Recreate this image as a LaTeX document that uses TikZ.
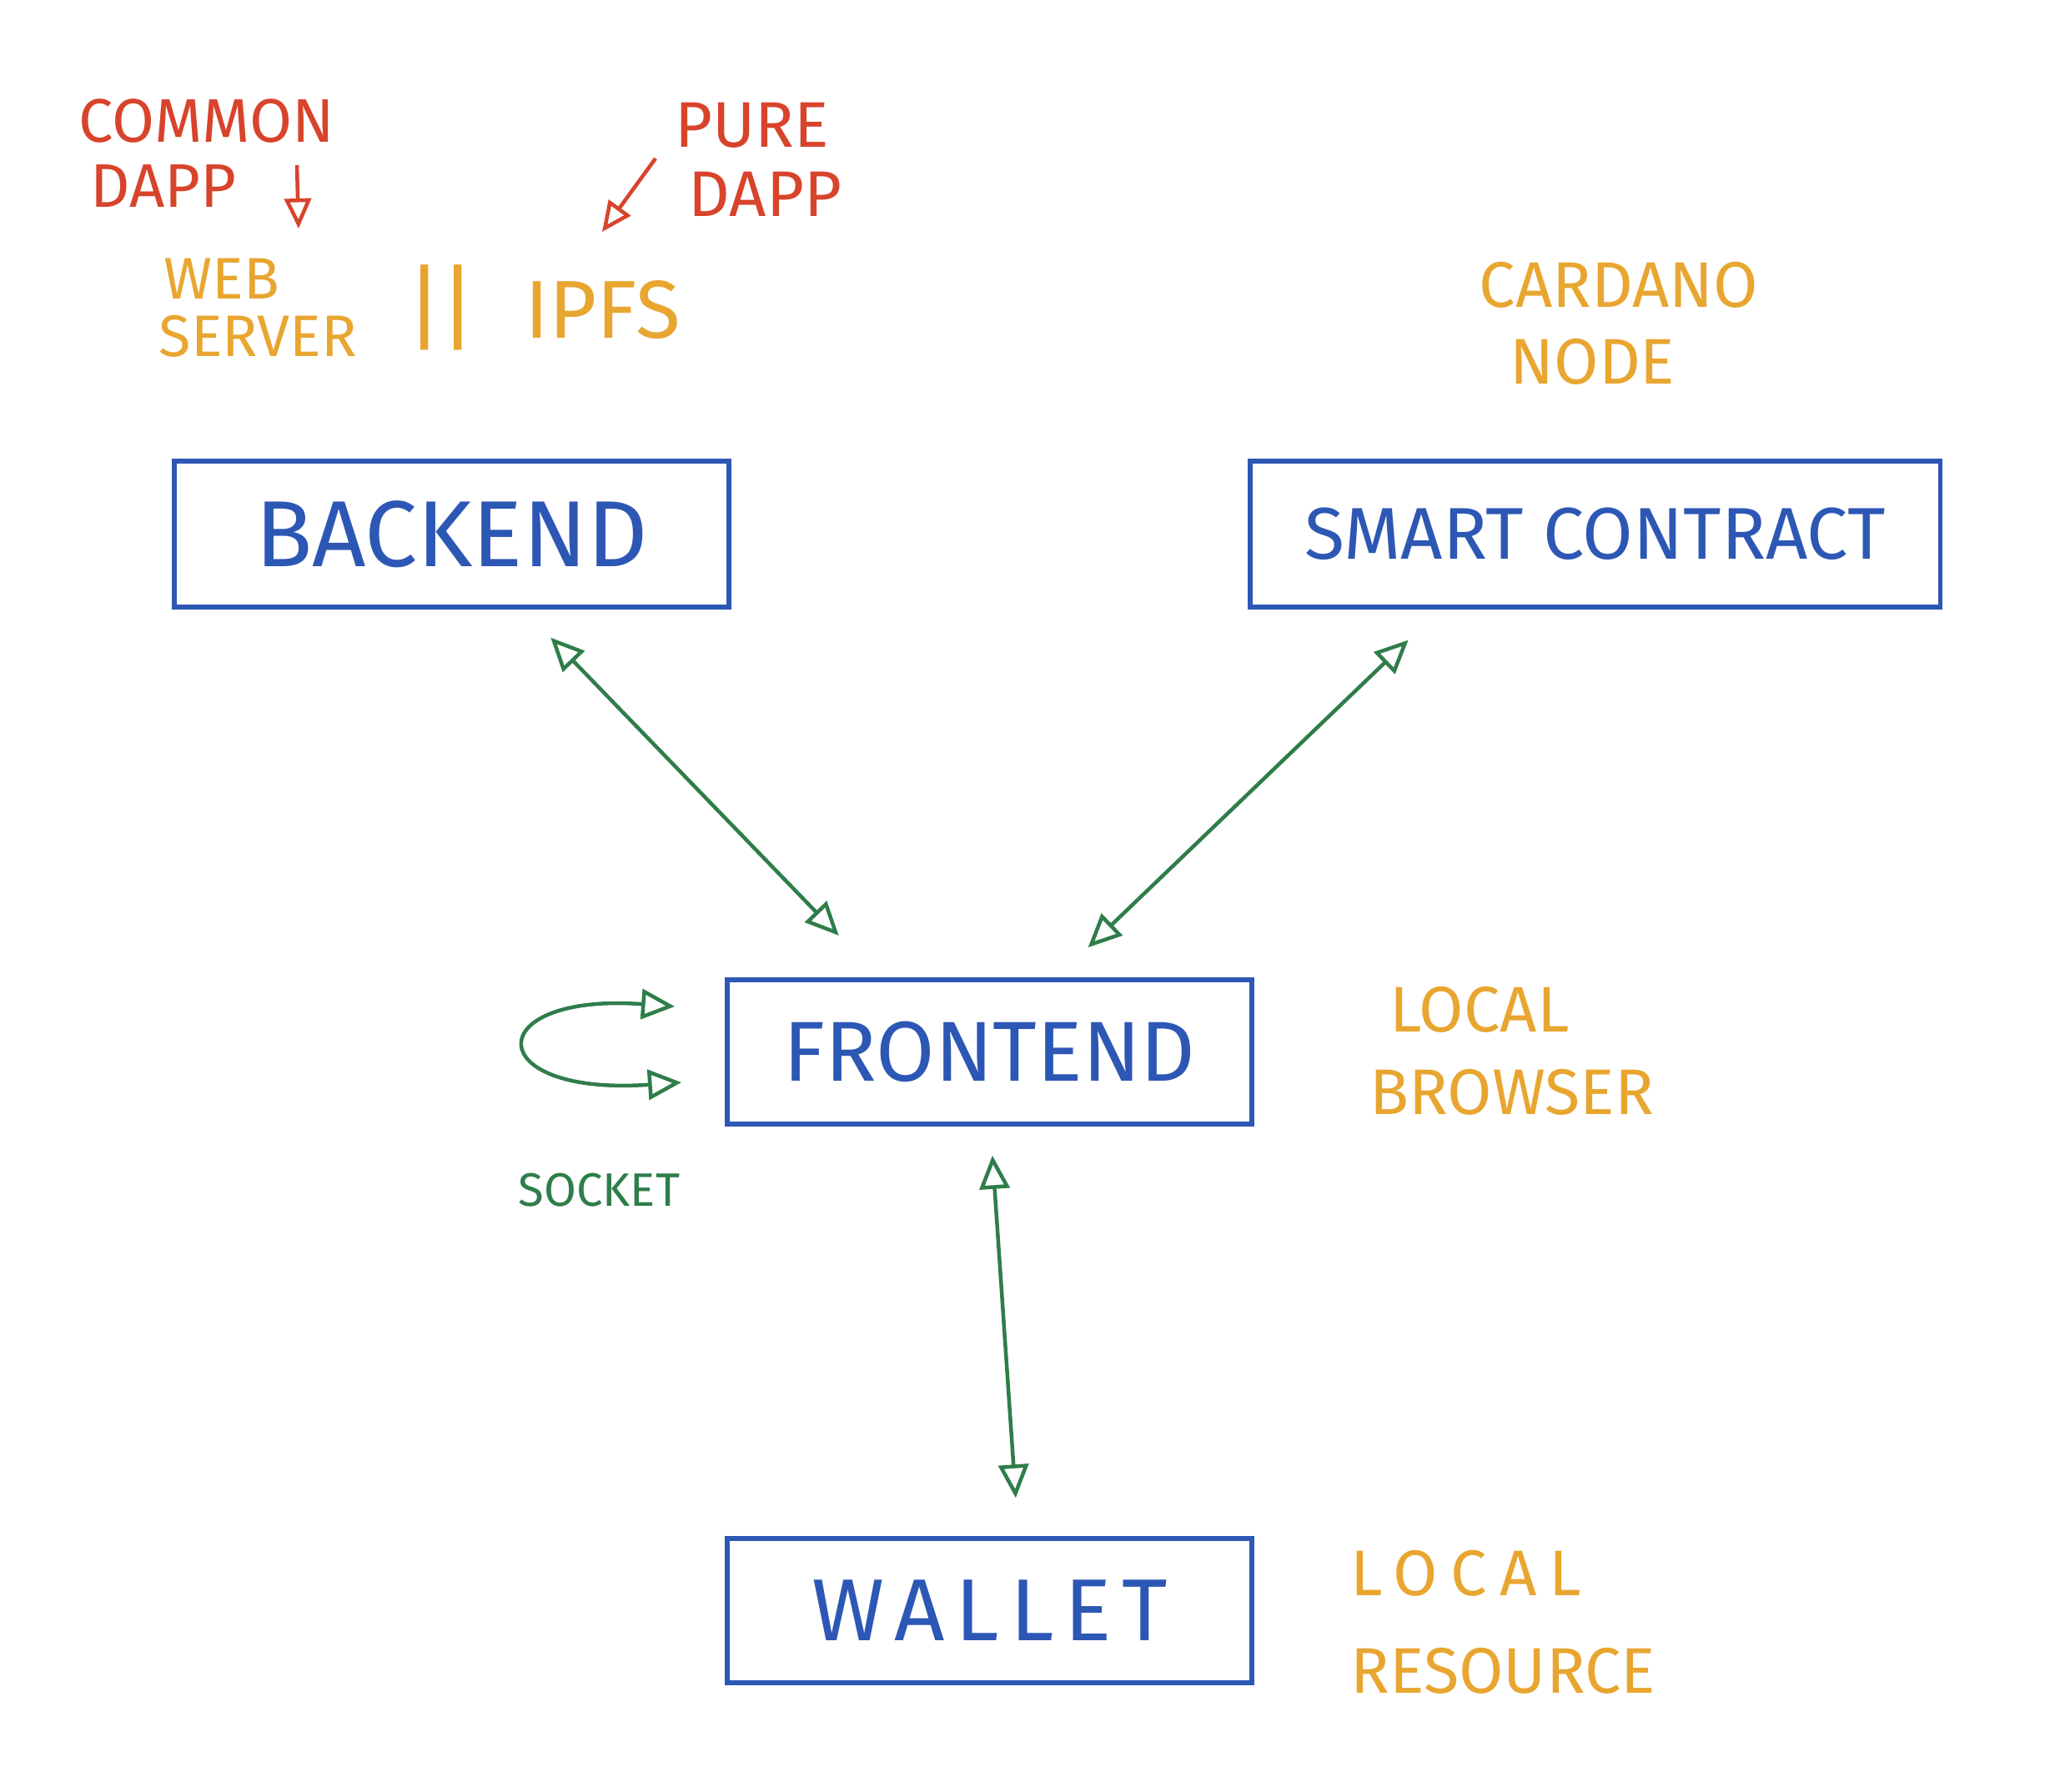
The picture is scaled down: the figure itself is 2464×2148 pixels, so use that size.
\documentclass[tikz,border=0pt]{standalone}
\usepackage{fontspec}
\setmainfont{Fira Sans}
\usetikzlibrary{arrows.meta}
\definecolor{penblue}{HTML}{2D57B4}
\definecolor{pengreen}{HTML}{2F7D4A}
\definecolor{penorange}{HTML}{E8A630}
\definecolor{penred}{HTML}{D8432C}
\begin{document}
\begin{tikzpicture}[x=0.01cm,y=-0.01cm,
  nodebox/.style={draw=penblue, line width=0.55mm, text=penblue, inner sep=0},
  biarrow/.style={draw=pengreen, line width=0.45mm,
    {Triangle[open,length=4mm,width=3.6mm]}-{Triangle[open,length=4mm,width=3.6mm]}},
  redarrow/.style={draw=penred, line width=0.45mm, -{Triangle[open,length=3.6mm,width=3.2mm]}},
  orangenote/.style={text=penorange, align=left, anchor=base west, inner sep=0},
  rednote/.style={text=penred, align=left, anchor=base west, inner sep=0},
  greennote/.style={text=pengreen, align=left, anchor=base west, inner sep=0}]
\fill[white] (0,0) rectangle (2464,2148);
\useasboundingbox (0,0) rectangle (2464,2148);

% boxes
\node[nodebox, minimum width=66.5mm, minimum height=17.5mm,
  font=\fontsize{32pt}{36pt}\selectfont] (back) at (541.5,640.5) {BACKEND};
\node[nodebox, minimum width=82.7mm, minimum height=17.5mm,
  font=\fontsize{25pt}{28pt}\selectfont] (smart) at (1912.5,640.5) {SMART CONTRACT};
\node[nodebox, minimum width=62.9mm, minimum height=17.3mm,
  font=\fontsize{29pt}{32pt}\selectfont] (front) at (1186.5,1261.5) {FRONTEND};
\node[nodebox, minimum width=62.9mm, minimum height=17.3mm,
  font=\fontsize{30pt}{34pt}\selectfont\addfontfeatures{LetterSpace=12}] (wallet) at (1186.5,1931.5) {WALLET};

% connectors
\draw[biarrow, shorten <=4.7mm, shorten >=7mm]
  ([xshift=8.6mm]back.south) -- ([xshift=-13.2mm]front.north);
\draw[biarrow, shorten <=5.3mm, shorten >=5.2mm]
  ([xshift=-18.55mm]smart.south) -- ([xshift=8.05mm]front.north);
\draw[biarrow, shorten <=3.5mm, shorten >=4.6mm]
  ([xshift=0.1mm]front.south) -- ([xshift=3.45mm]wallet.north);

% socket loop
\coordinate (socktop) at ([xshift=-6mm,yshift=5.45mm]front.west);
\coordinate (sockbot) at ([xshift=-5.2mm,yshift=-3.65mm]front.west);
\draw[biarrow] (socktop) .. controls (575,1190) and (575,1315) .. (sockbot);
\node[greennote, font=\fontsize{16pt}{18pt}\selectfont] (socket) at (621,1446) {SOCKET};

% annotations
\node[rednote, font=\fontsize{21pt}{22pt}\selectfont] (common) at (94,248) {COMMON\\\hspace*{1.4mm}DAPP};
\node[rednote, font=\fontsize{22pt}{23.6pt}\selectfont] (pure) at (809,259) {PURE\\\hspace*{1.6mm}DAPP};
\coordinate (commontail) at (356,198);
\coordinate (commontip) at (358,274);
\draw[redarrow] (commontail) -- (commontip);
\coordinate (puretail) at (786,190);
\coordinate (puretip) at (722,278);
\draw[redarrow] (puretail) -- (puretip);

\node[orangenote, font=\fontsize{20pt}{19.6pt}\selectfont] (web) at (190,427) {\hspace*{0.6mm}WEB\\SERVER};
\node[text=penorange, inner sep=0, font=\fontsize{32pt}{36pt}\selectfont\addfontfeatures{LetterSpace=-5}] (bars) at (529,369) {||};
\node[orangenote, font=\fontsize{28pt}{30pt}\selectfont] (ipfs) at (629,405) {IPFS};
\node[orangenote, font=\fontsize{22pt}{26pt}\selectfont] (cardano) at (1773,460) {CARDANO\\\hspace*{3.7mm}NODE};
\node[orangenote, font=\fontsize{22pt}{28pt}\selectfont] (browser) at (1642,1336) {\hspace*{2.4mm}LOCAL\\BROWSER};
\node[orangenote, font=\fontsize{22pt}{33pt}\selectfont] (resource) at (1619,2030) {{\addfontfeatures{LetterSpace=20}LOCAL}\\RESOURCE};
\end{tikzpicture}
\end{document}
